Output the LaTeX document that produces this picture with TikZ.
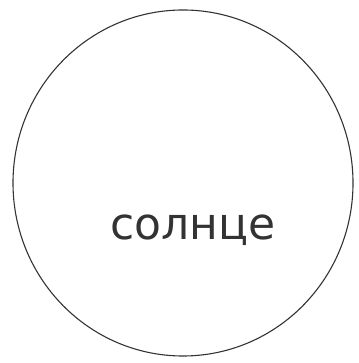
\documentclass[tikz,border=0pt]{standalone}
\usepackage{fontspec}
\setmainfont{DejaVu Sans}
\usetikzlibrary{shapes.geometric}
\tikzset{sunshape/.style={ellipse,draw=black!80,line width=1.1pt,minimum width=340pt,minimum height=346pt,inner sep=0pt},sunlabel/.style={font=\fontsize{44}{44}\selectfont,text=black!80,inner sep=0pt},every picture/.style={line cap=round}}
\begin{document}
\begin{tikzpicture}[x=1pt,y=1pt]
\useasboundingbox (0,0) rectangle (358,363);
\node[sunshape] (sun) at (183,180) {};
\node[sunlabel] (name) at (193,133) {солнце};
\end{tikzpicture}
\end{document}
